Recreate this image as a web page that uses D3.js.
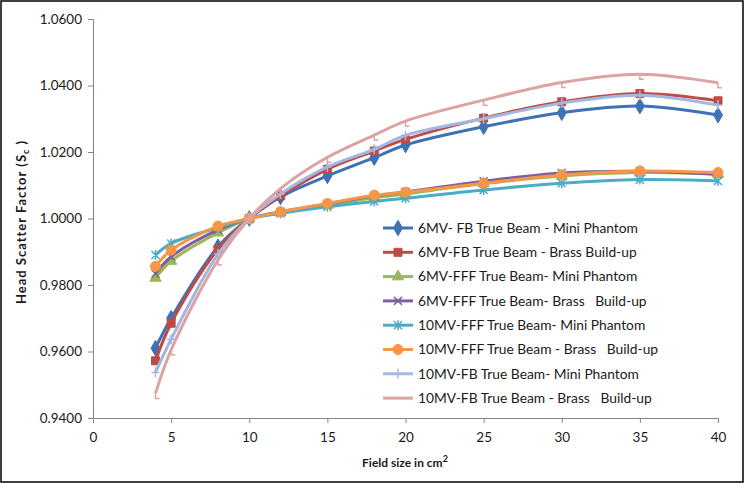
<!DOCTYPE html>
<html><head><meta charset="utf-8">
<script src="https://cdn.jsdelivr.net/npm/d3@7"></script>
<style>
html,body{margin:0;padding:0;background:#fff;}
svg{display:block;}
text{font-family:Lato,"Open Sans",sans-serif;}
</style></head><body>
<svg id="chart" width="744" height="483"></svg>
<script>
const fieldSizes = [4,5,8,10,12,15,18,20,25,30,35,40];
const seriesNames = [
  "6MV- FB True Beam - Mini Phantom",
  "6MV-FB True Beam - Brass Build-up",
  "6MV-FFF True Beam- Mini Phantom",
  "6MV-FFF True Beam- Brass   Build-up",
  "10MV-FFF True Beam- Mini Phantom",
  "10MV-FFF True Beam - Brass   Build-up",
  "10MV-FB True Beam- Mini Phantom",
  "10MV-FB True Beam - Brass   Build-up"
];
const fb6Mini    = [0.9610,0.9700,0.9915,1.0000,1.0065,1.0128,1.0183,1.0221,1.0276,1.0318,1.0338,1.0311];
const fb6Brass   = [0.9572,0.9685,0.9908,1.0000,1.0068,1.0148,1.0203,1.0238,1.0302,1.0351,1.0376,1.0354];
const fff6Mini   = [0.9821,0.9872,0.9957,1.0000,1.0018,1.0040,1.0062,1.0074,1.0105,1.0128,1.0138,1.0134];
const fff6Brass  = [0.9834,0.9885,0.9966,1.0000,1.0020,1.0044,1.0068,1.0080,1.0112,1.0137,1.0142,1.0132];
const fff10Mini  = [0.9890,0.9925,0.9972,1.0000,1.0015,1.0035,1.0051,1.0061,1.0086,1.0106,1.0117,1.0113];
const fff10Brass = [0.9856,0.9905,0.9977,1.0000,1.0020,1.0045,1.0070,1.0079,1.0106,1.0131,1.0143,1.0138];
const fb10Mini   = [0.9537,0.9637,0.9893,1.0000,1.0074,1.0155,1.0208,1.0250,1.0300,1.0347,1.0371,1.0341];
const fb10Brass  = [0.9474,0.9605,0.9875,1.0000,1.0090,1.0184,1.0251,1.0293,1.0356,1.0409,1.0434,1.0408];
const seriesValues = [fb6Mini, fb6Brass, fff6Mini, fff6Brass, fff10Mini, fff10Brass, fb10Mini, fb10Brass];
const xTicks = [0,5,10,15,20,25,30,35,40];
const yTicks = [0.94,0.96,0.98,1.00,1.02,1.04,1.06];

const colors = ["#3E72B4","#BE4B48","#98B954","#7D60A0","#4AACC5","#F79646","#A3B8E0","#DDA2A1"];
const markers = ["diamond","square","triangle","x","asterisk","circle","plus","dash"];

const svg = d3.select("#chart");
svg.append("rect").attr("x",1).attr("y",1).attr("width",742).attr("height",481)
  .attr("fill","#fff").attr("stroke","#000").attr("stroke-width",1.5);

const x = d3.scaleLinear().domain([0,40]).range([93,718]);
const y = d3.scaleLinear().domain([0.94,1.06]).range([418,19]);

const axisColor = "#868686";
const gx = svg.append("g").attr("transform","translate(0,418)")
  .call(d3.axisBottom(x).tickValues(xTicks).tickSize(5).tickPadding(9).tickFormat(d3.format("d")));
const gy = svg.append("g").attr("transform","translate(93,0)")
  .call(d3.axisLeft(y).tickValues(yTicks).tickSize(5).tickPadding(6).tickFormat(d3.format(".4f")));
[gx,gy].forEach(g=>{
  g.selectAll("path,line").attr("stroke",axisColor).attr("stroke-width",1);
  g.selectAll("text").attr("fill","#1a1a1a").attr("font-size","13.5px").attr("font-family","Lato,sans-serif");
});

function markerPath(type){
  switch(type){
    case "diamond": return d3.symbol(d3.symbolDiamond, 70)();
    case "square": return d3.symbol(d3.symbolSquare, 64)();
    case "triangle": return d3.symbol(d3.symbolTriangle, 55)();
    case "circle": return d3.symbol(d3.symbolCircle, 80)();
    case "x": return "M-4,-4L4,4M-4,4L4,-4";
    case "asterisk": return "M-4,-4L4,4M-4,4L4,-4M0,-5L0,5";
    case "plus": return "M0,-5L0,5M-4,0L4,0";
    case "dash": return "M0,0L0,5L4,5";
  }
}
const filled = {diamond:true,square:true,triangle:true,circle:true};

const line = d3.line().x(d=>x(d[0])).y(d=>y(d[1])).curve(d3.curveCatmullRom.alpha(0.5));

seriesValues.forEach((vals,i)=>{
  const pts = fieldSizes.map((f,j)=>[f,vals[j]]);
  const g = svg.append("g");
  g.append("path").attr("d",line(pts)).attr("fill","none")
    .attr("stroke",colors[i]).attr("stroke-width",3).attr("stroke-linejoin","round");
  const m = markers[i];
  g.selectAll("path.mk").data(pts).enter().append("path").attr("class","mk")
    .attr("transform",d=>`translate(${x(d[0])},${y(d[1])})`)
    .attr("d",markerPath(m))
    .attr("fill",filled[m]?colors[i]:"none")
    .attr("stroke",colors[i]).attr("stroke-width",filled[m]?1:1.5);
});

// Legend
const legY0 = 228, legStep = 24.3;
seriesNames.forEach((name,i)=>{
  const ly = legY0 + i*legStep;
  const g = svg.append("g");
  g.append("line").attr("x1",383).attr("x2",413).attr("y1",ly).attr("y2",ly)
    .attr("stroke",colors[i]).attr("stroke-width",3);
  const m = markers[i];
  if(m!=="dash"){
    g.append("path").attr("transform",`translate(398,${ly})`).attr("d",markerPath(m))
      .attr("fill",filled[m]?colors[i]:"none").attr("stroke",colors[i]).attr("stroke-width",filled[m]?1:1.5);
  }
  g.append("text").attr("x",418).attr("y",ly).attr("dy","0.35em")
    .attr("font-size","13.8px").attr("fill","#1a1a1a").style("white-space","pre")
    .text(name);
});

// Axis titles
svg.append("text").attr("x",405).attr("y",467).attr("text-anchor","middle")
  .attr("font-size","12px").attr("font-weight","bold").attr("fill","#1a1a1a")
  .html('Field size in cm<tspan dy="-5" font-size="9px">2</tspan>');
const yt = svg.append("text").attr("transform","translate(26,222) rotate(-90)")
  .attr("text-anchor","middle").attr("font-size","13px").attr("font-weight","bold").attr("fill","#1a1a1a")
  .style("letter-spacing","1px").style("white-space","pre");
yt.append("tspan").text("Head Scatter Factor (S");
yt.append("tspan").attr("font-size","9px").attr("dy","3").text("c");
yt.append("tspan").attr("dy","-3").text(" )");
</script>
</body></html>
